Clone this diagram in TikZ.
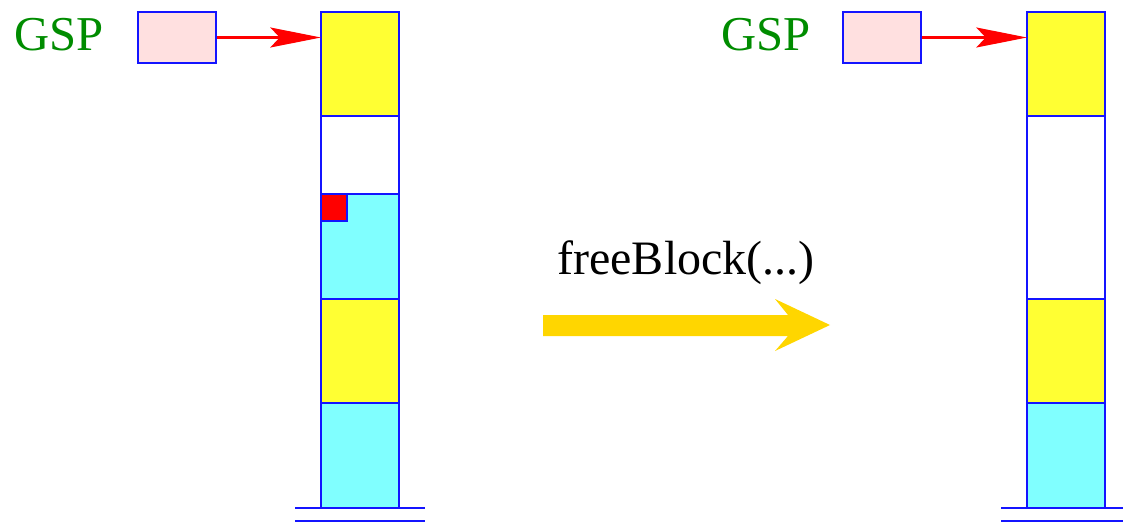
\documentclass[tikz,border=0pt]{standalone}
\usepackage{fontspec}
\setmainfont{Liberation Serif}
\usetikzlibrary{arrows.meta}
\definecolor{cellblue}{RGB}{20,20,255}
\definecolor{cellyellow}{RGB}{255,255,51}
\definecolor{cellcyan}{RGB}{128,255,255}
\definecolor{ptrpink}{RGB}{255,224,224}
\definecolor{labelgreen}{RGB}{0,140,0}
\definecolor{gold}{RGB}{255,214,0}
\tikzset{
  cell/.style={draw=cellblue, line width=1.7pt, minimum width=58.5pt, inner sep=0pt, outer sep=0pt},
  ptrbox/.style={draw=cellblue, line width=1.7pt, fill=ptrpink, minimum width=58.5pt, minimum height=38.25pt, inner sep=0pt},
  reglabel/.style={text=labelgreen, font=\fontsize{36.5}{42}\selectfont, inner sep=0pt},
  ptr/.style={red, line width=1.6pt, -{Stealth[length=38pt,width=15pt,inset=7pt]}},
  ground/.style={draw=cellblue, line width=1.5pt},
  flagbox/.style={draw=cellblue, line width=1.5pt, fill=red}
}
\begin{document}
\begin{tikzpicture}[x=0.75pt,y=-0.75pt]
\useasboundingbox (0,0) rectangle (1123,524);

% ---------- heap before ----------
\node[cell, fill=cellyellow, minimum height=78pt]   (a1) at (360,64)    {};
\node[cell, fill=white,      minimum height=58.5pt] (a2) at (360,155)   {};
\node[cell, fill=cellcyan,   minimum height=78.75pt](a3) at (360,246.5) {};
\node[cell, fill=cellyellow, minimum height=78pt]   (a4) at (360,351)   {};
\node[cell, fill=cellcyan,   minimum height=78.75pt](a5) at (360,455.5) {};
\draw[flagbox] (321,194) rectangle (347,221);
\draw[ground] (295,508) -- (425,508);
\draw[ground] (295,521) -- (425,521);

\node[reglabel, anchor=base] (gspA) at (59,51) {GSP};
\node[ptrbox] (pA) at (177,37.5) {};
\draw[ptr] (pA.east) -- (a1.west |- pA.east);

% ---------- heap after ----------
\node[cell, fill=cellyellow, minimum height=78pt]    (b1) at (1066,64)    {};
\node[cell, fill=white,      minimum height=137.25pt](b2) at (1066,207.5) {};
\node[cell, fill=cellyellow, minimum height=78pt]    (b3) at (1066,351)   {};
\node[cell, fill=cellcyan,   minimum height=78.75pt] (b4) at (1066,455.5) {};
\draw[ground] (1001,508) -- (1123,508);
\draw[ground] (1001,521) -- (1123,521);

\node[reglabel, anchor=base] (gspB) at (766,51) {GSP};
\node[ptrbox] (pB) at (882,37.5) {};
\draw[ptr] (pB.east) -- (b1.west |- pB.east);

% ---------- transition ----------
\node[font=\fontsize{36}{42}\selectfont, anchor=base, inner sep=0pt] (op) at (686,274) {freeBlock(...)};
\fill[gold] (543,315) -- (788,315) -- (775,299) -- (830,325) -- (775,351) -- (788,336) -- (543,336) -- cycle;
\end{tikzpicture}
\end{document}
